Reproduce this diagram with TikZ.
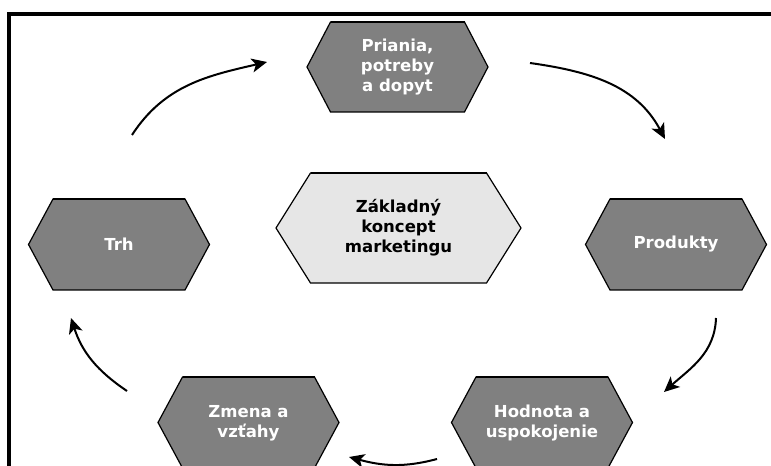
\documentclass[tikz,border=0pt]{standalone}
\usepackage{fontspec}
\setmainfont{DejaVu Sans}
\usetikzlibrary{arrows.meta}
\definecolor{hexgray}{HTML}{808080}
\definecolor{hexlight}{HTML}{E6E6E6}
\newcommand{\hexat}[6]{%
  % #1 x, #2 y, #3 half top width, #4 half height, #5 tip, #6 style
  \path[#6] (#1-#3,#2+#4) -- (#1+#3,#2+#4) -- (#1+#3+#5,#2) -- (#1+#3,#2-#4)
    -- (#1-#3,#2-#4) -- (#1-#3-#5,#2) -- cycle;
  \draw[line width=1.6pt] (#1-#3,#2+#4) -- (#1+#3,#2+#4);}
\tikzset{
  darkhex/.style={fill=hexgray, draw=black, line width=0.9pt},
  lighthex/.style={fill=hexlight, draw=black, line width=0.9pt},
  hextext/.style={font=\bfseries\fontsize{12.4}{15}\selectfont, align=center, inner sep=0pt},
  whitetext/.style={hextext, text=white},
  blacktext/.style={hextext, text=black},
  arr/.style={line width=1.5pt, -{Stealth[length=11.5pt, width=10.5pt, inset=3pt]}},
  frame/.style={line width=2.3pt}
}
\begin{document}
\begin{tikzpicture}[x=0.75pt, y=0.75pt]
\useasboundingbox (0,0) rectangle (771,-466);
\clip (0,0) rectangle (771,-466);
\draw[frame] (9,-500) -- (9,-14) -- (800,-14);
% hexagons
\hexat{397.5}{-67}{67}{45}{23.5}{darkhex}
\hexat{119}{-244.5}{66}{45.5}{24.5}{darkhex}
\hexat{676}{-244.5}{66}{45.5}{24.5}{darkhex}
\hexat{248.5}{-422.5}{66}{45.5}{24.5}{darkhex}
\hexat{542}{-422.5}{66}{45.5}{24.5}{darkhex}
\hexat{398.5}{-228}{88}{55}{34.5}{lighthex}
% texts
\node[whitetext] (prianie) at (397.5,-67) {Priania,\\potreby\\a dopyt};
\node[whitetext] (trh) at (119,-244) {Trh};
\node[whitetext] (produkty) at (676,-244) {Produkty};
\node[whitetext] (zmena) at (248.5,-423) {Zmena a\\vzťahy};
\node[whitetext] (hodnota) at (542,-423) {Hodnota a\\uspokojenie};
\node[blacktext] (zaklad) at (398.5,-228) {Základný\\koncept\\marketingu};
% arc end points
\coordinate (a1s) at (132,-135);
\coordinate (a1e) at (267,-62);
\coordinate (a2s) at (530,-63);
\coordinate (a2e) at (665,-139);
\coordinate (a3s) at (716,-318);
\coordinate (a3e) at (664,-392);
\coordinate (a4s) at (437,-459);
\coordinate (a4e) at (349,-457);
\coordinate (a5s) at (127,-391);
\coordinate (a5e) at (71,-318);
% arcs
\draw[arr] (a1s) to[out=57, in=193] (a1e);
\draw[arr] (a2s) to[out=-8, in=118] (a2e);
\draw[arr] (a3s) to[out=-92, in=42] (a3e);
\draw[arr] (a4s) to[out=-165, in=-15] (a4e);
\draw[arr] (a5s) to[out=146, in=-72] (a5e);
\end{tikzpicture}
\end{document}
